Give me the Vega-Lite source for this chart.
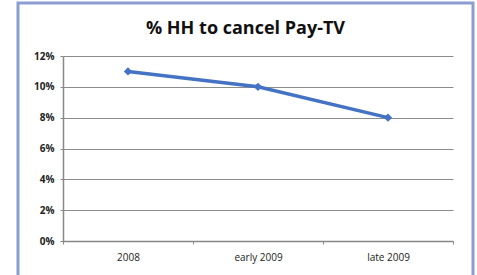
{
  "$schema": "https://vega.github.io/schema/vega-lite/v6.json",
  "width": 455,
  "height": 285,
  "autosize": "none",
  "padding": {"left": 18, "top": 3, "right": 4, "bottom": 0},
  "background": "white",
  "config": {
    "view": {"stroke": "#8B9DD3", "strokeWidth": 3},
    "font": "Open Sans"
  },
  "title": {
    "text": "% HH to cancel Pay-TV",
    "anchor": "middle",
    "orient": "top",
    "offset": -35,
    "fontSize": 18,
    "fontWeight": "bold",
    "font": "Open Sans",
    "color": "#111111",
    "frame": "group"
  },
  "data": {
    "values": [
      {"period": "2008", "share": 0.11},
      {"period": "early 2009", "share": 0.10},
      {"period": "late 2009", "share": 0.08}
    ]
  },
  "mark": {
    "type": "line",
    "color": "#4472C4",
    "strokeWidth": 3.5,
    "point": {"shape": "diamond", "size": 70, "filled": true, "color": "#4472C4"}
  },
  "encoding": {
    "x": {
      "field": "period",
      "type": "ordinal",
      "bandPosition": 0.5,
      "sort": null,
      "scale": {"type": "band", "range": [45, 435], "paddingInner": 0, "paddingOuter": 0},
      "axis": {
        "title": null,
        "offset": -47,
        "labelAngle": 0,
        "tickBand": "extent",
        "tickSize": 3,
        "tickColor": "#888888",
        "domainColor": "#888888",
        "domainWidth": 1.5,
        "labelFontSize": 10,
        "labelColor": "#222222",
        "labelPadding": 8,
        "grid": false
      }
    },
    "y": {
      "field": "share",
      "type": "quantitative",
      "scale": {"domain": [0, 0.12], "range": [238, 53], "nice": false, "zero": true},
      "axis": {
        "title": null,
        "offset": -45,
        "format": ".0%",
        "values": [0, 0.02, 0.04, 0.06, 0.08, 0.1, 0.12],
        "grid": true,
        "gridColor": "#8C8C8C",
        "gridWidth": 1.2,
        "tickSize": 3,
        "tickColor": "#888888",
        "domainColor": "#888888",
        "domainWidth": 1.5,
        "labelFontSize": 10,
        "labelFontWeight": "bold",
        "labelColor": "#222222",
        "labelPadding": 6
      }
    }
  }
}
